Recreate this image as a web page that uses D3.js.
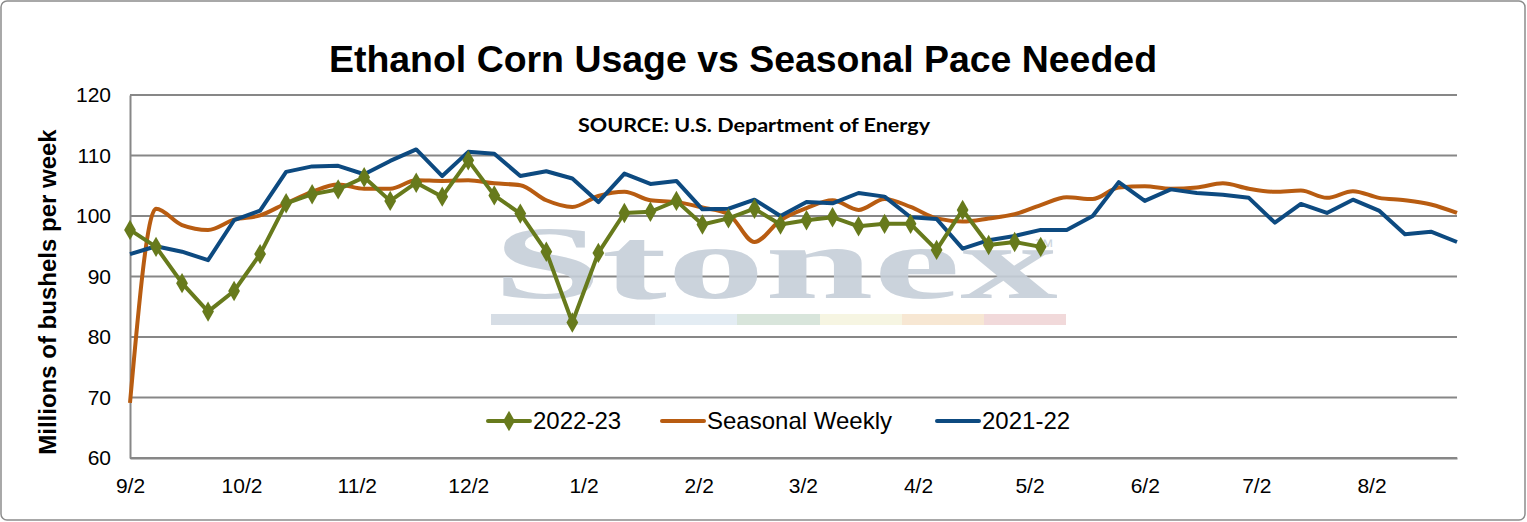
<!DOCTYPE html>
<html>
    <head>
        <meta charset="utf-8" />
        <title> Ethanol Corn Usage </title>
        <style>
          body { margin: 0; background: #fff; }
          text { font-family: "Liberation Sans", Arial, sans-serif; }
        </style>
        <script src="https://d3js.org/d3.v7.min.js"></script>
    </head>

    <body>
      <script>

        // weekly dates (Fridays)
        var weeks = ["2022-09-02","2022-09-09","2022-09-16","2022-09-23","2022-09-30",
          "2022-10-07","2022-10-14","2022-10-21","2022-10-28",
          "2022-11-04","2022-11-11","2022-11-18","2022-11-25",
          "2022-12-02","2022-12-09","2022-12-16","2022-12-23","2022-12-30",
          "2023-01-06","2023-01-13","2023-01-20","2023-01-27",
          "2023-02-03","2023-02-10","2023-02-17","2023-02-24",
          "2023-03-03","2023-03-10","2023-03-17","2023-03-24","2023-03-31",
          "2023-04-07","2023-04-14","2023-04-21","2023-04-28",
          "2023-05-05","2023-05-12","2023-05-19","2023-05-26",
          "2023-06-02","2023-06-09","2023-06-16","2023-06-23","2023-06-30",
          "2023-07-07","2023-07-14","2023-07-21","2023-07-28",
          "2023-08-04","2023-08-11","2023-08-18","2023-08-25"];

        var usage2223 = [97.7, 94.9, 88.9, 84.2, 87.6, 93.7, 102.1, 103.6, 104.4, 106.4,
          102.5, 105.5, 103.2, 109.2, 103.4, 100.4, 94.1, 82.4, 93.9, 100.5,
          100.7, 102.5, 98.6, 99.6, 101.2, 98.6, 99.3, 99.8, 98.3, 98.7,
          98.7, 94.4, 101.0, 95.2, 95.7, 94.9];

        var seasonal = [69.1, 101.2, 98.5, 97.7, 99.4, 100.1, 102.1, 104.0, 105.2, 104.5,
          104.5, 105.9, 105.8, 105.9, 105.4, 105.1, 102.6, 101.5, 103.3, 104.0,
          102.6, 102.3, 101.4, 100.3, 95.7, 99.3, 101.3, 102.6, 101.0, 102.8,
          101.5, 99.6, 99.1, 99.6, 100.3, 101.8, 103.1, 102.8, 104.7, 104.9,
          104.5, 104.7, 105.4, 104.5, 104.0, 104.2, 103.0, 104.1, 103.0, 102.6,
          101.9, 100.5];

        var usage2122 = [93.7, 95.0, 94.1, 92.7, 99.3, 100.9, 107.3, 108.2, 108.3, 106.9,
          109.1, 111.0, 106.6, 110.6, 110.3, 106.6, 107.4, 106.2, 102.3, 107.0,
          105.3, 105.8, 101.1, 101.2, 102.7, 100.0, 102.3, 102.1, 103.8, 103.2,
          99.8, 99.5, 94.6, 96.0, 96.7, 97.7, 97.7, 100.0, 105.6, 102.5,
          104.4, 103.8, 103.5, 103.0, 98.9, 102.0, 100.5, 102.7, 100.9, 97.0,
          97.4, 95.7];

        var tickDates = ["2022-09-02","2022-10-02","2022-11-02","2022-12-02","2023-01-02",
          "2023-02-02","2023-03-02","2023-04-02","2023-05-02","2023-06-02",
          "2023-07-02","2023-08-02"];

        var yTicks = [60, 70, 80, 90, 100, 110, 120];

        var seriesNames = ["2022-23", "Seasonal Weekly", "2021-22"];

        var parse = d3.timeParse("%Y-%m-%d");
        var dates = weeks.map(parse);

        var canvas = d3.select("body").append("svg")
            .attr("width", 1527)
            .attr("height", 522);

        // outer frame
        canvas.append("rect")
            .attr("x", 1).attr("y", 1)
            .attr("width", 1524).attr("height", 519)
            .attr("rx", 6)
            .attr("fill", "#fff")
            .attr("stroke", "#8c8c8c")
            .attr("stroke-width", 1.5);

        var x = d3.scaleTime()
            .domain([dates[0], dates[dates.length - 1]])
            .range([130, 1457]);

        var y = d3.scaleLinear()
            .domain([60, 120])
            .range([458, 95]);

        // gridlines
        canvas.append("g")
            .selectAll("line")
            .data(yTicks)
            .enter()
            .append("line")
            .attr("x1", 130)
            .attr("x2", 1457)
            .attr("y1", function(d){ return y(d); })
            .attr("y2", function(d){ return y(d); })
            .attr("stroke", "#878787")
            .attr("stroke-width", 2);

        // watermark
        var wm = canvas.append("g").attr("opacity", 0.9);
        wm.append("text")
            .attr("x", 493)
            .attr("y", 298)
            .attr("textLength", 565)
            .attr("lengthAdjust", "spacingAndGlyphs")
            .style("font-family", "'Liberation Serif', serif")
            .style("font-weight", "bold")
            .style("font-size", "104px")
            .attr("fill", "#c6cfd9")
            .text("Stonex");
        wm.append("text")
            .attr("x", 1034)
            .attr("y", 253)
            .style("font-size", "20px")
            .attr("fill", "#c6cfd9")
            .text("\u2122");
        var bars = [["#d2dae3", 491, 655], ["#e1eaf2", 655, 737], ["#d4e3d8", 737, 820],
                    ["#f6f4df", 820, 902], ["#f7e5cf", 902, 984], ["#f0d5d6", 984, 1066]];
        wm.selectAll("rect")
            .data(bars)
            .enter()
            .append("rect")
            .attr("x", function(d){ return d[1]; })
            .attr("width", function(d){ return d[2] - d[1]; })
            .attr("y", 314)
            .attr("height", 11)
            .attr("fill", function(d){ return d[0]; });

        // axes
        var yAxis = canvas.append("g")
            .attr("transform", "translate(130,0)")
            .call(d3.axisLeft(y).tickValues(yTicks).tickSize(0).tickPadding(19));
        yAxis.select(".domain").attr("stroke", "#878787").attr("stroke-width", 2);
        yAxis.selectAll("text")
            .style("font-size", "21px")
            .attr("fill", "#000");

        var xAxis = canvas.append("g")
            .attr("transform", "translate(0,458)")
            .call(d3.axisBottom(x)
                .tickValues(tickDates.map(parse))
                .tickFormat(d3.timeFormat("%-m/%-d"))
                .tickSize(0)
                .tickPadding(20));
        xAxis.select(".domain").attr("stroke", "#878787").attr("stroke-width", 2);
        xAxis.selectAll("text")
            .style("font-size", "21px")
            .attr("fill", "#000");

        // lines
        var line = d3.line()
            .x(function(d, i){ return x(dates[i]); })
            .y(function(d){ return y(d); });

        var smooth = d3.line()
            .x(function(d, i){ return x(dates[i]); })
            .y(function(d){ return y(d); })
            .curve(d3.curveMonotoneX);

        canvas.append("path")
            .attr("d", smooth(seasonal))
            .attr("fill", "none")
            .attr("stroke", "#b85c11")
            .attr("stroke-width", 4)
            .attr("stroke-linejoin", "round");

        canvas.append("path")
            .attr("d", line(usage2122))
            .attr("fill", "none")
            .attr("stroke", "#0d4a80")
            .attr("stroke-width", 4)
            .attr("stroke-linejoin", "round");

        canvas.append("path")
            .attr("d", line(usage2223))
            .attr("fill", "none")
            .attr("stroke", "#677a1c")
            .attr("stroke-width", 4)
            .attr("stroke-linejoin", "round");

        var diamond = d3.symbol().type(d3.symbolDiamond).size(120);
        canvas.append("g")
            .selectAll("path")
            .data(usage2223)
            .enter()
            .append("path")
            .attr("d", diamond)
            .attr("transform", function(d, i){
                return "translate(" + x(dates[i]) + "," + y(d) + ")";
            })
            .attr("fill", "#677a1c");

        // titles
        canvas.append("text")
            .attr("x", 743)
            .attr("y", 72)
            .attr("text-anchor", "middle")
            .attr("textLength", 828)
            .attr("lengthAdjust", "spacingAndGlyphs")
            .style("font-size", "36px")
            .style("font-weight", "bold")
            .text("Ethanol Corn Usage vs Seasonal Pace Needed");

        canvas.append("text")
            .attr("x", 754)
            .attr("y", 132)
            .attr("text-anchor", "middle")
            .attr("textLength", 352)
            .attr("lengthAdjust", "spacingAndGlyphs")
            .style("font-family", "Lato, 'Open Sans', sans-serif")
            .style("font-size", "19px")
            .style("font-weight", "bold")
            .text("SOURCE: U.S. Department of Energy");

        canvas.append("text")
            .attr("transform", "translate(56,292) rotate(-90)")
            .attr("text-anchor", "middle")
            .style("font-size", "24px")
            .style("font-weight", "bold")
            .text("Millions of bushels per week");

        // legend
        var legendItems = [
            { name: seriesNames[0], color: "#677a1c", x: 488, marker: true },
            { name: seriesNames[1], color: "#b85c11", x: 662, marker: false },
            { name: seriesNames[2], color: "#0d4a80", x: 937, marker: false }
        ];
        var legend = canvas.append("g")
            .selectAll("g")
            .data(legendItems)
            .enter()
            .append("g")
            .attr("transform", function(d){ return "translate(" + d.x + ",421)"; });
        legend.append("line")
            .attr("x1", 0).attr("x2", 42)
            .attr("stroke", function(d){ return d.color; })
            .attr("stroke-width", 4)
            .attr("stroke-linecap", "round");
        legend.filter(function(d){ return d.marker; })
            .append("path")
            .attr("d", diamond)
            .attr("transform", "translate(21,0)")
            .attr("fill", function(d){ return d.color; });
        legend.append("text")
            .attr("x", 45)
            .attr("y", 8)
            .style("font-size", "24px")
            .text(function(d){ return d.name; });

      </script>
    </body>
</html>
